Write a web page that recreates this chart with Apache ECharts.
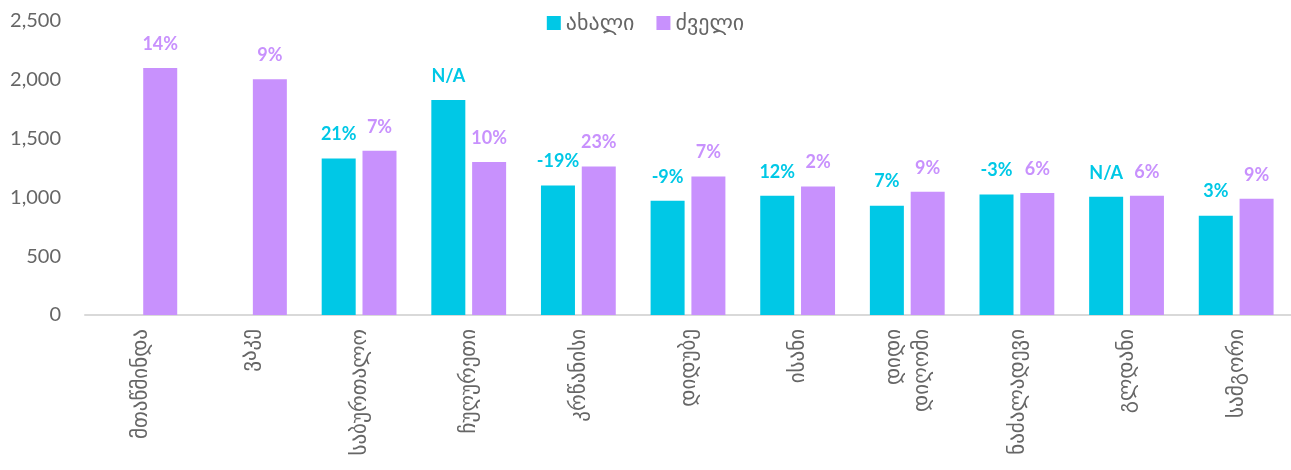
<!DOCTYPE html>
<html lang="ka">
  <head>
    <meta charset="UTF-8" />
    <title>ახალი / ძველი</title>
    <script src="https://cdn.jsdelivr.net/npm/echarts@6/dist/echarts.min.js"></script>
    <style>
      * {
        margin: 0;
        padding: 0;
      }
    </style>
  </head>
  <body>
    <div id="charts" style="width: 1291px; height: 470px"></div>
    <script>
      var districts = [
        "მთაწმინდა",
        "ვაკე",
        "საბურთალო",
        "ჩუღურეთი",
        "კრწანისი",
        "დიდუბე",
        "ისანი",
        "დიდი\nდიღომი",
        "ნაძალადევი",
        "გლდანი",
        "სამგორი",
      ];
      var newValues = [null, null, 1331, 1829, 1102, 972, 1014, 930, 1025, 1006, 845];
      var oldValues = [2101, 2005, 1396, 1300, 1263, 1178, 1093, 1048, 1037, 1014, 989];
      var newLabels = ["", "", "21%", "N/A", "-19%", "-9%", "12%", "7%", "-3%", "N/A", "3%"];
      var oldLabels = ["14%", "9%", "7%", "10%", "23%", "7%", "2%", "9%", "6%", "6%", "9%"];

      var cyan = "#00C8E6";
      var purple = "#C891FD";
      var font = "Lato, 'DejaVu Sans', sans-serif";

      var myEcharts = echarts.init(document.getElementById("charts"));
      var options = {
        textStyle: { fontFamily: font },
        legend: {
          top: 7,
          left: "center",
          itemWidth: 14,
          itemHeight: 14,
          itemGap: 22,
          icon: "rect",
          textStyle: { fontSize: 22, color: "#666", fontFamily: font },
        },
        grid: { left: 85, right: 0, top: 21, bottom: 155 },
        xAxis: {
          type: "category",
          data: districts,
          axisLine: { lineStyle: { color: "#d9d9d9", width: 2 } },
          axisTick: { show: false },
          axisLabel: {
            rotate: 90,
            interval: 0,
            margin: 14,
            fontSize: 21,
            color: "#666",
            lineHeight: 28,
          },
        },
        yAxis: {
          type: "value",
          min: 0,
          max: 2500,
          interval: 500,
          splitLine: { show: false },
          axisLabel: { fontSize: 20, color: "#666", margin: 24 },
        },
        series: [
          {
            name: "ახალი",
            type: "bar",
            data: newValues,
            barWidth: 34,
            barGap: "20%",
            itemStyle: { color: cyan },
            label: {
              show: true,
              position: "top",
              distance: 15,
              color: cyan,
              fontWeight: "bold",
              fontSize: 18,
              formatter: function (arg) {
                return newLabels[arg.dataIndex];
              },
            },
          },
          {
            name: "ძველი",
            type: "bar",
            data: oldValues,
            barWidth: 34,
            itemStyle: { color: purple },
            label: {
              show: true,
              position: "top",
              distance: 15,
              color: purple,
              fontWeight: "bold",
              fontSize: 18,
              formatter: function (arg) {
                return oldLabels[arg.dataIndex];
              },
            },
          },
        ],
      };
      myEcharts.setOption(options);
    </script>
  </body>
</html>
